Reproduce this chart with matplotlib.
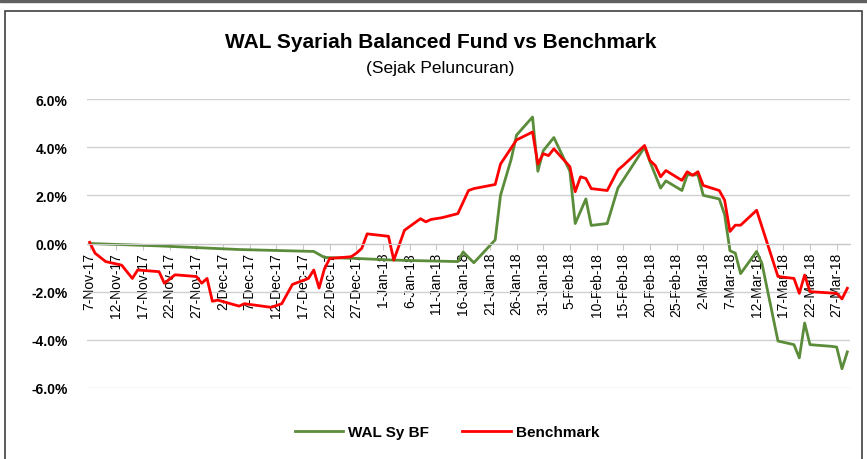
# wal_syariah_chart.py
# Kinerja WAL Syariah Balanced Fund vs Benchmark sejak peluncuran

import pandas as pd
import matplotlib.pyplot as plt
import matplotlib.dates as mdates
from matplotlib.patches import Rectangle

plt.rcParams["font.family"] = ["Liberation Sans", "DejaVu Sans"]

# === 1. Data (dalam %) ===
fund_dates = [
    "2017-11-07", "2017-11-20", "2017-12-05", "2017-12-19", "2017-12-21",
    "2017-12-27", "2018-01-03", "2018-01-15", "2018-01-16", "2018-01-18",
    "2018-01-22", "2018-01-23", "2018-01-25", "2018-01-26", "2018-01-29",
    "2018-01-30", "2018-01-31", "2018-02-02", "2018-02-05", "2018-02-06",
    "2018-02-08", "2018-02-09", "2018-02-12", "2018-02-14", "2018-02-19",
    "2018-02-20", "2018-02-22", "2018-02-23", "2018-02-26", "2018-02-27",
    "2018-03-01", "2018-03-02", "2018-03-05", "2018-03-06", "2018-03-07",
    "2018-03-08", "2018-03-09", "2018-03-12", "2018-03-13", "2018-03-16",
    "2018-03-19", "2018-03-20", "2018-03-21", "2018-03-22", "2018-03-26",
    "2018-03-27", "2018-03-28", "2018-03-29",
]
fund_values = [
    0.00, -0.10, -0.25, -0.33, -0.58,
    -0.62, -0.69, -0.75, -0.35, -0.80,
    0.15, 2.00, 3.50, 4.50, 5.25,
    3.00, 3.85, 4.40, 3.00, 0.83,
    1.85, 0.75, 0.83, 2.30, 4.00,
    3.40, 2.30, 2.60, 2.20, 2.85,
    2.85, 2.00, 1.85, 1.20, -0.30,
    -0.40, -1.25, -0.33, -0.83, -4.05,
    -4.20, -4.75, -3.30, -4.20, -4.27,
    -4.30, -5.20, -4.50,
]

bench_dates = [
    "2017-11-07", "2017-11-08", "2017-11-10", "2017-11-13", "2017-11-15",
    "2017-11-16", "2017-11-20", "2017-11-21", "2017-11-23", "2017-11-27",
    "2017-11-28", "2017-11-29", "2017-11-30", "2017-12-01", "2017-12-05",
    "2017-12-06", "2017-12-11", "2017-12-13", "2017-12-15", "2017-12-18",
    "2017-12-19", "2017-12-20", "2017-12-21", "2017-12-22", "2017-12-26",
    "2017-12-27", "2017-12-28", "2017-12-29", "2018-01-02", "2018-01-03",
    "2018-01-05", "2018-01-08", "2018-01-09", "2018-01-10", "2018-01-12",
    "2018-01-15", "2018-01-17", "2018-01-18", "2018-01-22", "2018-01-23",
    "2018-01-26", "2018-01-29", "2018-01-30", "2018-01-31", "2018-02-01",
    "2018-02-02", "2018-02-05", "2018-02-06", "2018-02-07", "2018-02-08",
    "2018-02-09", "2018-02-12", "2018-02-14", "2018-02-15", "2018-02-19",
    "2018-02-20", "2018-02-21", "2018-02-22", "2018-02-23", "2018-02-26",
    "2018-02-27", "2018-02-28", "2018-03-01", "2018-03-02", "2018-03-05",
    "2018-03-06", "2018-03-07", "2018-03-08", "2018-03-09", "2018-03-12",
    "2018-03-16", "2018-03-19", "2018-03-20", "2018-03-21", "2018-03-22",
    "2018-03-27", "2018-03-28", "2018-03-29",
]
bench_values = [
    0.05, -0.40, -0.75, -0.90, -1.45,
    -1.10, -1.17, -1.65, -1.30, -1.37,
    -1.65, -1.45, -2.40, -2.35, -2.60,
    -2.50, -2.65, -2.50, -1.70, -1.45,
    -1.10, -1.85, -1.05, -0.62, -0.55,
    -0.40, -0.20, 0.40, 0.30, -0.69,
    0.55, 1.03, 0.90, 1.00, 1.07,
    1.24, 2.20, 2.28, 2.45, 3.30,
    4.30, 4.63, 3.30, 3.73, 3.65,
    3.93, 3.19, 2.15, 2.77, 2.70,
    2.28, 2.20, 3.05, 3.24, 4.07,
    3.45, 3.24, 2.77, 3.03, 2.62,
    2.98, 2.83, 2.98, 2.41, 2.20,
    1.80, 0.50, 0.76, 0.76, 1.38,
    -1.37, -1.45, -2.07, -1.31, -2.00,
    -2.07, -2.30, -1.86,
]

start, end = pd.Timestamp("2017-11-07"), pd.Timestamp("2018-03-29")
tick_dates = pd.date_range(start, "2018-03-27", freq="5D")
y_ticks = [-6, -4, -2, 0, 2, 4, 6]

# === 2. Grafik ===
fig = plt.figure(figsize=(8.67, 4.6), dpi=100)
ax = fig.add_axes([87 / 867, 1 - 389 / 460, 763 / 867, 289 / 460])

ax.plot(pd.to_datetime(fund_dates), fund_values, color="#5b8c3a", lw=2.0,
        label="WAL Sy BF")
ax.plot(pd.to_datetime(bench_dates), bench_values, color="#ff0000", lw=2.0,
        label="Benchmark")

ax.set_xlim(start - pd.Timedelta(hours=12), end + pd.Timedelta(hours=12))
ax.set_ylim(-6, 6)
ax.set_yticks(y_ticks)
ax.set_yticklabels([f"{v:.1f}%" for v in y_ticks], fontsize=10, fontweight="bold")
ax.grid(axis="y", color="#d0d0d0", lw=1)
ax.set_axisbelow(True)

for s in ["top", "right", "left"]:
    ax.spines[s].set_visible(False)
ax.spines["bottom"].set_position(("data", 0))
ax.spines["bottom"].set_color("#c8c8c8")
ax.tick_params(axis="y", length=0, pad=14)
ax.tick_params(axis="x", length=4, color="#c8c8c8", pad=2)

ax.set_xticks(tick_dates)
ax.set_xticklabels([f"{d.day}-{d.strftime('%b-%y')}" for d in tick_dates],
                   rotation=90, fontsize=10)

# judul
fig.text(0.508, 1 - 42 / 460, "WAL Syariah Balanced Fund vs Benchmark",
         ha="center", va="center", fontsize=15, fontweight="bold")
fig.text(0.508, 1 - 68 / 460, "(Sejak Peluncuran)",
         ha="center", va="center", fontsize=12.5)

fig.legend(loc="center", bbox_to_anchor=(447 / 867, 1 - 433 / 460), ncol=2,
           frameon=False, prop={"weight": "bold", "size": 11},
           handlelength=3.2, handletextpad=0.3, columnspacing=2.2)

# bingkai
fig.add_artist(Rectangle((5 / 867, -0.05), 857 / 867, 1.05 - 12 / 460,
                         transform=fig.transFigure, fill=False,
                         ec="#404040", lw=1.2))
fig.add_artist(Rectangle((0, 1 - 3 / 460), 1, 3 / 460,
                         transform=fig.transFigure, color="#606060"))

plt.savefig("out.png", dpi=100)
